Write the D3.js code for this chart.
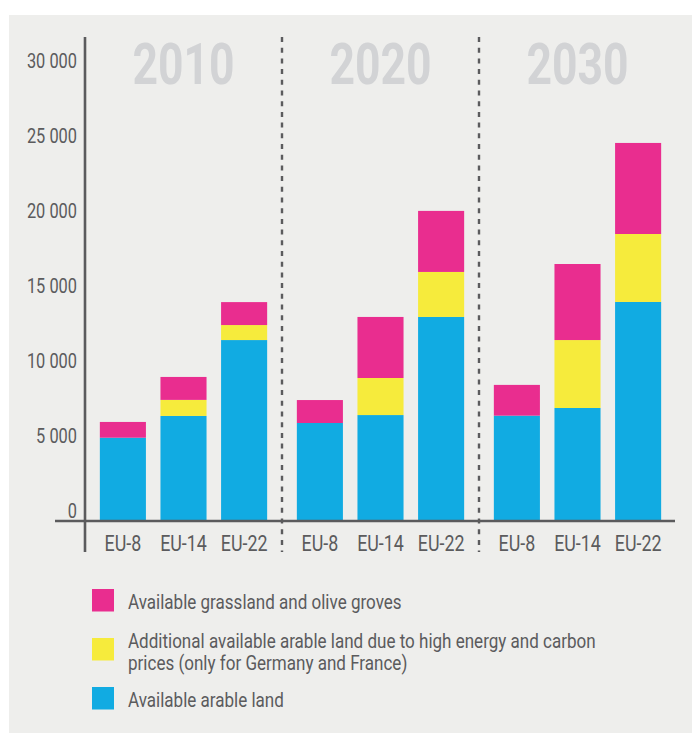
<!DOCTYPE html>
<html>
<head>
<meta charset="utf-8">
<script src="https://cdn.jsdelivr.net/npm/d3@7"></script>
<style>
  html, body { margin: 0; padding: 0; background: #ffffff; }
  svg { display: block; }
  text { font-family: Roboto, "Noto Sans", sans-serif; }
</style>
</head>
<body>
<svg id="chart" width="692" height="733"></svg>
<script>
// Available land for bioenergy (1 000 ha), by period and country group
const years = ["2010", "2020", "2030"];
const regions = ["EU-8", "EU-14", "EU-22"];

// one row per year, one value per region
const arableLand    = [[5520, 6970, 12030], [6500, 7030, 13570], [6990, 7500, 14570]];
const highPriceLand = [[0, 1070, 1000],     [0, 2470, 3000],     [0, 4530, 4530]];
const grassland     = [[1050, 1530, 1530],  [1530, 4070, 4070],  [2050, 5070, 6070]];

const yTicks = [0, 5000, 10000, 15000, 20000, 25000, 30000];

const seriesKeys = ["arable", "highPrice", "grassland"];
const seriesColors = { arable: "#11abe2", highPrice: "#f6eb3c", grassland: "#e92d8f" };

const legendItems = [
  { key: "grassland", lines: ["Available grassland and olive groves"] },
  { key: "highPrice", lines: ["Additional available arable land due to high energy and carbon",
                              "prices (only for Germany and France)"] },
  { key: "arable",    lines: ["Available arable land"] }
];

// flat table for the stack layout
const rows = [];
years.forEach((yr, i) => regions.forEach((rg, j) => rows.push({
  year: yr, region: rg,
  arable: arableLand[i][j], highPrice: highPriceLand[i][j], grassland: grassland[i][j]
})));

const svg = d3.select("#chart");
const ink = "#5b5b5d";

// panel
svg.append("rect").attr("x", 9).attr("y", 15).attr("width", 683).attr("height", 718)
   .attr("fill", "#eeeeec");

const plotLeft = 85, plotRight = 676, axisTop = 37, axisBottom = 552;

const x0 = d3.scaleBand().domain(years).range([plotLeft, plotRight]).padding(0);
const x1 = d3.scaleBand().domain(regions).range([0, x0.bandwidth()])
             .paddingInner(0.24).paddingOuter(0.245);
const y = d3.scaleLinear().domain([0, 30000]).range([520.5, 70.5]);

const fmt = d3.formatLocale({ decimal: ",", thousands: " ", grouping: [3], currency: ["", ""] }).format(",d");

// year headings
svg.append("g").selectAll("text").data(years).join("text")
  .attr("transform", d => `translate(${x0(d) + x0.bandwidth() / 2},83.5) scale(0.78,1)`)
  .attr("text-anchor", "middle")
  .attr("font-size", 57).attr("font-weight", 700)
  .attr("fill", "#d2d3d5")
  .text(d => d);

// stacked bars
const stack = d3.stack().keys(seriesKeys)(rows);
svg.append("g").selectAll("g").data(stack).join("g")
  .attr("fill", s => seriesColors[s.key])
  .selectAll("rect").data(s => s).join("rect")
  .attr("x", d => x0(d.data.year) + x1(d.data.region))
  .attr("width", x1.bandwidth())
  .attr("y", d => y(d[1]))
  .attr("height", d => y(d[0]) - y(d[1]));

// dashed separators between periods
svg.append("g").selectAll("line").data(years.slice(1)).join("line")
  .attr("x1", d => x0(d)).attr("x2", d => x0(d))
  .attr("y1", axisTop).attr("y2", axisBottom)
  .attr("stroke", ink).attr("stroke-width", 2.4)
  .attr("stroke-dasharray", "5,5.7");

// y axis labels
const yAxis = svg.append("g").attr("transform", "translate(77,0)")
  .call(d3.axisLeft(y).tickValues(yTicks).tickSize(0).tickPadding(0).tickFormat(fmt));
yAxis.select(".domain").remove();
yAxis.selectAll("text")
  .attr("x", 0).attr("dy", null).attr("y", -3)
  .attr("transform", "scale(0.78,1)")
  .attr("font-family", "Roboto, sans-serif")
  .attr("font-size", 21).attr("fill", ink);

// x axis labels, one axis per period
years.forEach(yr => {
  const g = svg.append("g").attr("transform", `translate(${x0(yr)},0)`)
    .call(d3.axisBottom(x1).tickSize(0).tickPadding(0));
  g.select(".domain").remove();
  g.selectAll(".tick text")
    .attr("y", 551).attr("dy", null)
    .attr("transform", "scale(0.83,1)")
    .attr("font-family", "Roboto, sans-serif")
    .attr("font-size", 21.5).attr("fill", ink);
  // keep the scaled labels centred under their bars
  g.selectAll(".tick").attr("transform", d => `translate(${x1(d) + x1.bandwidth() / 2},0)`);
});

// axis lines
svg.append("line").attr("x1", 55).attr("x2", plotRight - 1).attr("y1", 521).attr("y2", 521)
  .attr("stroke", ink).attr("stroke-width", 2.6);
svg.append("line").attr("x1", plotLeft).attr("x2", plotLeft).attr("y1", axisTop).attr("y2", axisBottom)
  .attr("stroke", ink).attr("stroke-width", 2.6);

// legend
const legendRowTop = [589, 638, 687];
const legend = svg.append("g");
legendItems.forEach((item, i) => {
  const top = legendRowTop[i];
  legend.append("rect").attr("x", 92).attr("y", top).attr("width", 22).attr("height", 22.5)
    .attr("fill", seriesColors[item.key]);
  const firstBase = item.lines.length === 1 ? top + 20.3 : top + 9.7;
  item.lines.forEach((ln, k) => {
    legend.append("text")
      .attr("transform", `translate(128,${firstBase + k * 22.3}) scale(0.852,1)`)
      .attr("font-size", 20).attr("fill", ink)
      .text(ln);
  });
});
</script>
</body>
</html>
